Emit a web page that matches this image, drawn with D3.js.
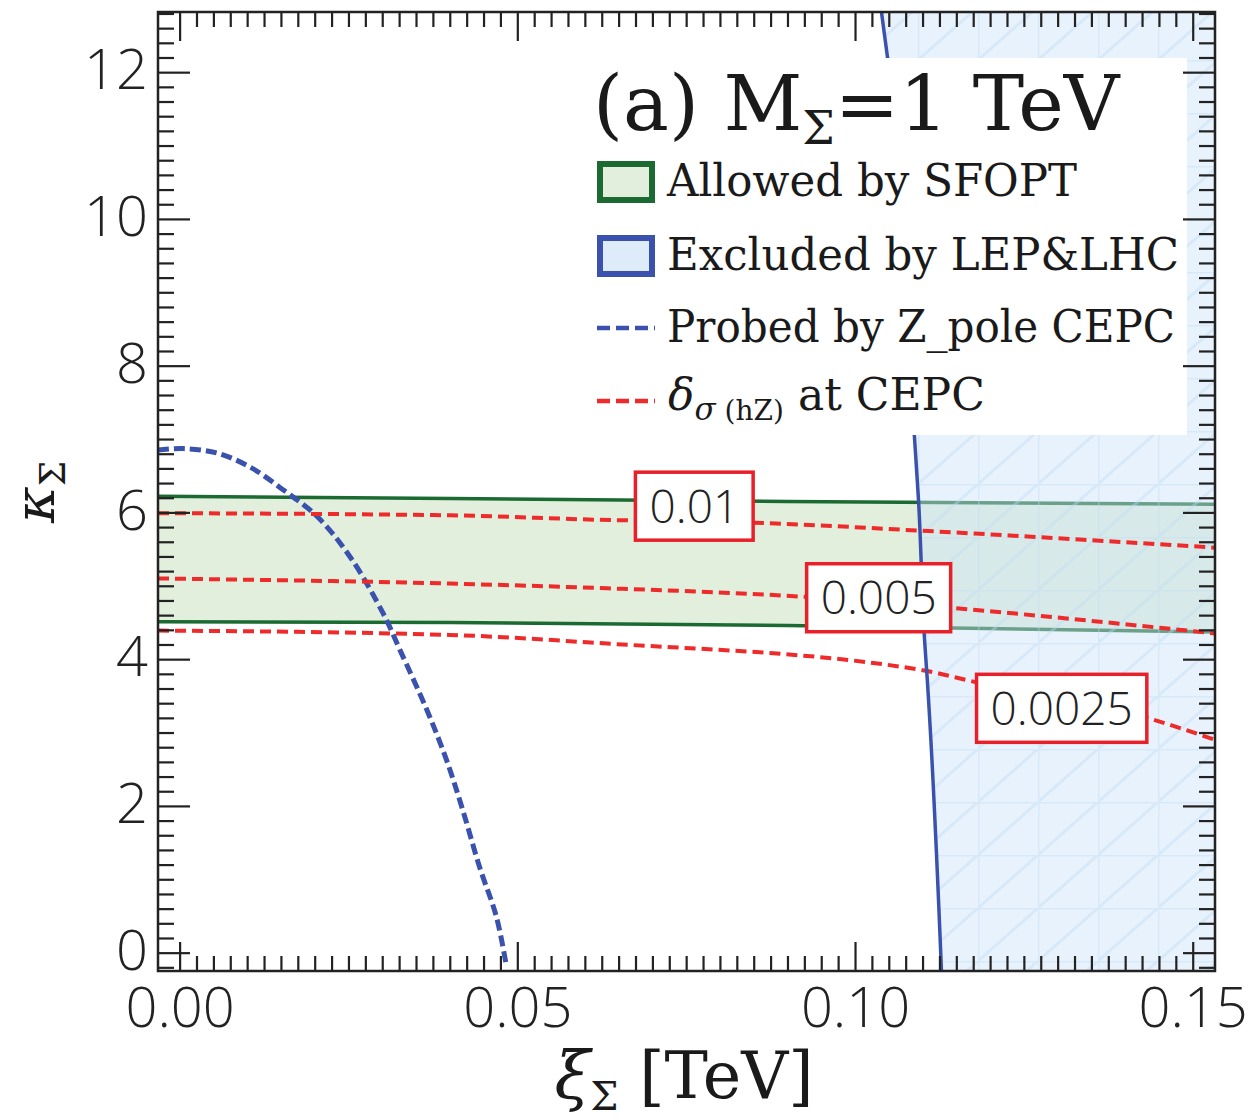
<!DOCTYPE html>
<html>
<head>
<meta charset="utf-8">
<script src="https://cdn.jsdelivr.net/npm/d3@7"></script>
<style>
  body { margin: 0; background: #fff; }
  svg { display: block; }
</style>
</head>
<body>
<svg id="chart" width="1253" height="1120"></svg>
<script>
// ---- data (xi in TeV, kappa) ----
const bandXi = [-0.0032, 0.04, 0.09, 0.1533];
const bandUpper = [6.22, 6.19, 6.15, 6.11];
const bandLower = [4.51, 4.50, 4.46, 4.37];

const exclKappa = [12.83, 12.21, 7.03, 6.17, 4.26, 3.72, -0.25];
const exclXi = [0.1039, 0.1048, 0.1088, 0.1094, 0.1103, 0.1107, 0.1128];

const zpoleXi = [-0.0032, 0.0005, 0.0055, 0.0104, 0.0153, 0.0203, 0.0252, 0.0301, 0.0326, 0.0366, 0.0395, 0.0419, 0.0444, 0.0469, 0.0484];
const zpoleKappa = [6.85, 6.87, 6.81, 6.62, 6.31, 5.95, 5.40, 4.63, 4.13, 3.31, 2.63, 1.95, 1.17, 0.49, -0.19];

const hzXi = [-0.0032, 0.04, 0.062, 0.085, 0.0925, 0.11, 0.114, 0.1177, 0.1433, 0.1533];
const hz010 = [5.99, 5.96, 5.90, 5.86, null, 5.75, null, null, null, 5.52];
const hz005 = [5.10, 5.03, 4.97, null, 4.85, null, 4.70, null, null, 4.35];
const hz0025 = [4.39, 4.33, 4.22, null, null, 3.85, null, 3.69, 3.20, 2.90];

const contourLabels = ['0.01', '0.005', '0.0025'];
const labelXi = [0.0762, 0.1035, 0.1306];
const labelKappa = [6.085, 4.837, 3.33];

const xMajor = [0, 0.05, 0.10, 0.15];
const yMajor = [0, 2, 4, 6, 8, 10, 12];

// ---- layout ----
const svg = d3.select('#chart');
const pLeft = 158, pRight = 1215, pTop = 12, pBottom = 971;

const x = d3.scaleLinear().domain([-0.0032, 0.1533]).range([pLeft, pRight]);
const y = d3.scaleLinear().domain([-0.25, 12.82]).range([pBottom, pTop]);

const defs = svg.append('defs');
defs.append('clipPath').attr('id', 'plotClip')
  .append('rect').attr('x', pLeft).attr('y', pTop).attr('width', pRight - pLeft).attr('height', pBottom - pTop);

const pat = defs.append('pattern').attr('id', 'mesh')
  .attr('patternUnits', 'userSpaceOnUse').attr('width', 60).attr('height', 53)
  .attr('x', 18).attr('y', 7);
pat.append('rect').attr('width', 60).attr('height', 53).attr('fill', 'rgba(205,226,248,0.45)');
pat.append('path').attr('d', 'M0,0V53M0,0H60M0,53L60,0')
  .attr('stroke', 'rgba(190,220,245,0.4)').attr('stroke-width', 3).attr('fill', 'none');

const plot = svg.append('g').attr('clip-path', 'url(#plotClip)');

// green band (allowed by SFOPT)
const band = bandXi.map((d, i) => ({ xi: d, hi: bandUpper[i], lo: bandLower[i] }));
plot.append('path').datum(band)
  .attr('d', d3.area().x(d => x(d.xi)).y0(d => y(d.lo)).y1(d => y(d.hi)))
  .attr('fill', '#e1efdc');
[d => d.hi, d => d.lo].forEach(acc => {
  plot.append('path').datum(band)
    .attr('d', d3.line().x(d => x(d.xi)).y(d => y(acc(d))))
    .attr('fill', 'none').attr('stroke', '#1b6a32').attr('stroke-width', 3.5);
});

// blue excluded region
const excl = exclXi.map((d, i) => ({ xi: d, k: exclKappa[i] }));
const exclPts = excl.map(d => [x(d.xi), y(d.k)]);
const regionPts = exclPts.concat([[pRight + 5, pBottom + 5], [pRight + 5, pTop - 5]]);
plot.append('path')
  .attr('d', 'M' + regionPts.map(p => p.join(',')).join('L') + 'Z')
  .attr('fill', 'url(#mesh)');

// Z-pole CEPC probe curve
const zpole = zpoleXi.map((d, i) => ({ xi: d, k: zpoleKappa[i] }));
plot.append('path').datum(zpole)
  .attr('d', d3.line().x(d => x(d.xi)).y(d => y(d.k)).curve(d3.curveCatmullRom))
  .attr('fill', 'none').attr('stroke', '#3a52ad').attr('stroke-width', 5)
  .attr('stroke-dasharray', '11,5');

// delta sigma(hZ) contours
[hz010, hz005, hz0025].forEach(series => {
  const pts = hzXi.map((d, i) => ({ xi: d, k: series[i] })).filter(d => d.k !== null);
  plot.append('path').datum(pts)
    .attr('d', d3.line().x(d => x(d.xi)).y(d => y(d.k)).curve(d3.curveMonotoneX))
    .attr('fill', 'none').attr('stroke', '#ee2a2a').attr('stroke-width', 4)
    .attr('stroke-dasharray', '11,6');
});

// excluded boundary line
plot.append('path').datum(excl)
  .attr('d', d3.line().x(d => x(d.xi)).y(d => y(d.k)).curve(d3.curveMonotoneY))
  .attr('fill', 'none').attr('stroke', '#3a52ad').attr('stroke-width', 3.5);

// contour labels
const tickFont = "'Open Sans', 'DejaVu Sans', sans-serif";
contourLabels.forEach((lab, i) => {
  const g = svg.append('g').attr('transform', `translate(${x(labelXi[i])},${y(labelKappa[i])})`);
  const t = g.append('text').attr('text-anchor', 'middle').attr('dy', '0.36em')
    .attr('font-family', tickFont).attr('font-weight', 300).attr('font-size', 46)
    .attr('fill', '#222').text(lab);
  const w = t.node().getComputedTextLength() + 28;
  g.insert('rect', 'text').attr('x', -w / 2).attr('y', -34).attr('width', w).attr('height', 68)
    .attr('fill', '#fff').attr('stroke', '#e8202a').attr('stroke-width', 3.5);
});

// legend box
const serif = "'DejaVu Serif', 'Liberation Serif', serif";
svg.append('rect').attr('x', 585).attr('y', 58).attr('width', 602).attr('height', 377).attr('fill', '#fff');

const title = svg.append('text').attr('x', 593).attr('y', 130)
  .attr('font-family', serif).attr('font-size', 77).attr('fill', '#1a1a1a');
title.append('tspan').text('(a) M');
title.append('tspan').attr('font-size', 46).attr('dy', 14).text('Σ');
title.append('tspan').attr('dy', -14).text('=1 TeV');

const legRows = [
  { kind: 'box', fill: '#e1efdc', stroke: '#1b6a32', label: 'Allowed by SFOPT', cy: 182, len: 410 },
  { kind: 'box', fill: '#deebf8', stroke: '#3a52ad', label: 'Excluded by LEP&LHC', cy: 256, len: 512 },
  { kind: 'line', stroke: '#3a52ad', label: 'Probed by Z_pole CEPC', cy: 328, len: 508 }
];
legRows.forEach(r => {
  if (r.kind === 'box') {
    svg.append('rect').attr('x', 600).attr('y', r.cy - 18).attr('width', 52).attr('height', 36)
      .attr('fill', r.fill).attr('stroke', r.stroke).attr('stroke-width', 6);
  } else {
    svg.append('line').attr('x1', 597).attr('x2', 655).attr('y1', r.cy).attr('y2', r.cy)
      .attr('stroke', r.stroke).attr('stroke-width', 4.5).attr('stroke-dasharray', '13,6');
  }
  svg.append('text').attr('x', 667).attr('y', r.cy + 14)
    .attr('font-family', serif).attr('font-size', 44).attr('fill', '#1a1a1a')
    .attr('textLength', r.len).attr('lengthAdjust', 'spacingAndGlyphs').text(r.label);
});
svg.append('line').attr('x1', 597).attr('x2', 655).attr('y1', 401).attr('y2', 401)
  .attr('stroke', '#ee2a2a').attr('stroke-width', 4.5).attr('stroke-dasharray', '13,6');
const hzText = svg.append('text').attr('x', 668).attr('y', 410)
  .attr('font-family', serif).attr('font-size', 44).attr('fill', '#1a1a1a');
hzText.append('tspan').attr('font-style', 'italic').text('δ');
hzText.append('tspan').attr('font-size', 31).attr('dy', 10).attr('font-style', 'italic').text('σ');
hzText.append('tspan').attr('font-size', 28).text(' (hZ)');
hzText.append('tspan').attr('dy', -10).text(' at CEPC');

// axes
const xMinor = d3.range(0, 61).map(i => i * 0.0025).filter(v => v <= 0.1533 && !xMajor.some(m => Math.abs(m - v) < 1e-9));
const yMinor = d3.range(-1, 65).map(i => +(i * 0.2).toFixed(2)).filter(v => v >= -0.25 && v <= 12.82 && !yMajor.includes(v));

function styleAxis(g) {
  g.select('.domain').remove();
  g.selectAll('.tick line').attr('stroke', '#222').attr('stroke-width', 2.2);
  g.selectAll('.tick text').attr('font-family', tickFont).attr('font-weight', 300)
    .attr('font-size', 56).attr('fill', '#222');
}

svg.append('g').attr('transform', `translate(0,${pBottom})`)
  .call(d3.axisBottom(x).tickValues(xMajor).tickSize(-29).tickPadding(16).tickFormat(d3.format('.2f')))
  .call(styleAxis);
svg.append('g').attr('transform', `translate(0,${pBottom})`)
  .call(d3.axisBottom(x).tickValues(xMinor).tickSize(-15).tickFormat(''))
  .call(styleAxis);
svg.append('g').attr('transform', `translate(0,${pTop})`)
  .call(d3.axisTop(x).tickValues(xMajor).tickSize(-29).tickFormat(''))
  .call(styleAxis);
svg.append('g').attr('transform', `translate(0,${pTop})`)
  .call(d3.axisTop(x).tickValues(xMinor).tickSize(-15).tickFormat(''))
  .call(styleAxis);

svg.append('g').attr('transform', `translate(${pLeft},0)`)
  .call(d3.axisLeft(y).tickValues(yMajor).tickSize(-32).tickPadding(10).tickFormat(d3.format('d')))
  .call(styleAxis)
  .call(g => g.selectAll('.tick text').attr('dy', '0.3em'));
svg.append('g').attr('transform', `translate(${pLeft},0)`)
  .call(d3.axisLeft(y).tickValues(yMinor).tickSize(-16).tickFormat(''))
  .call(styleAxis);
svg.append('g').attr('transform', `translate(${pRight},0)`)
  .call(d3.axisRight(y).tickValues(yMajor).tickSize(-32).tickFormat(''))
  .call(styleAxis);
svg.append('g').attr('transform', `translate(${pRight},0)`)
  .call(d3.axisRight(y).tickValues(yMinor).tickSize(-16).tickFormat(''))
  .call(styleAxis);

svg.append('rect').attr('x', pLeft).attr('y', pTop).attr('width', pRight - pLeft).attr('height', pBottom - pTop)
  .attr('fill', 'none').attr('stroke', '#222').attr('stroke-width', 2.5);

// axis titles
const xt = svg.append('text').attr('x', 684).attr('y', 1098).attr('text-anchor', 'middle')
  .attr('font-family', serif).attr('font-size', 65).attr('fill', '#1a1a1a');
xt.append('tspan').attr('font-style', 'italic').text('ξ');
xt.append('tspan').attr('font-size', 40).attr('dy', 12).text('Σ');
xt.append('tspan').attr('dy', -12).text(' [TeV]');

const yt = svg.append('text').attr('transform', 'translate(54,492) rotate(-90)').attr('text-anchor', 'middle')
  .attr('font-family', serif).attr('font-size', 56).attr('fill', '#1a1a1a');
yt.append('tspan').attr('font-style', 'italic').text('κ');
yt.append('tspan').attr('font-size', 36).attr('dy', 11).text('Σ');
</script>
</body>
</html>
